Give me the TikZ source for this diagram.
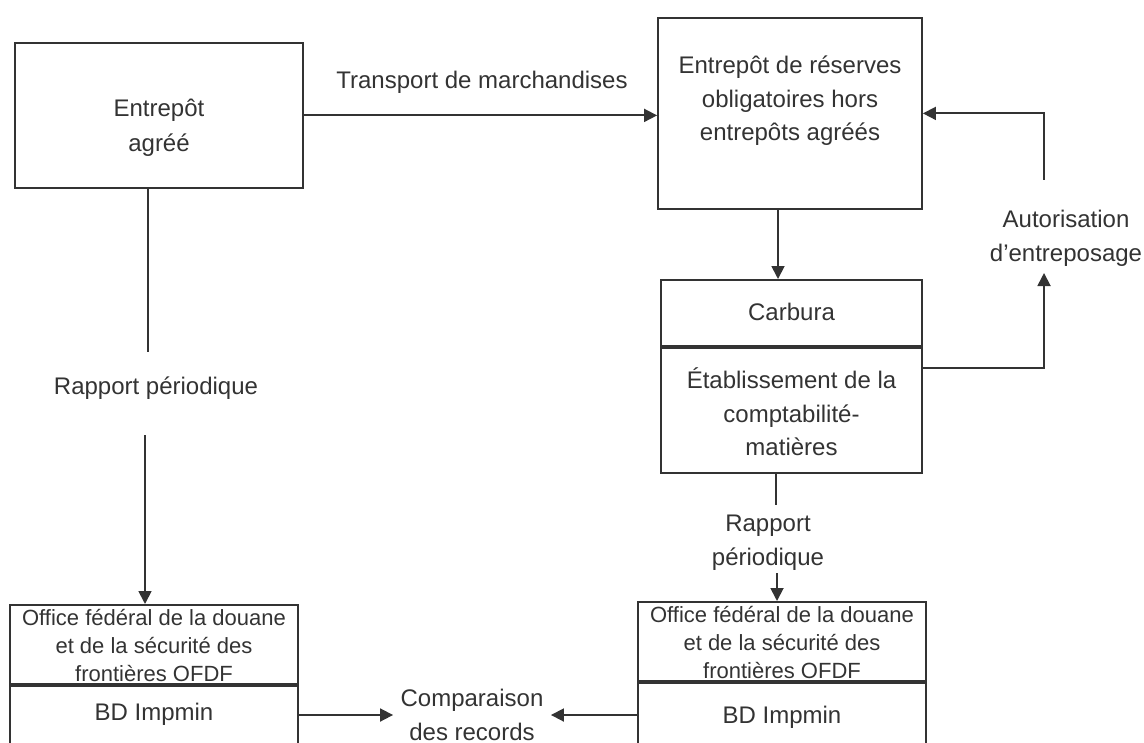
\documentclass[tikz,border=0pt]{standalone}
\usepackage{fontspec}
\setmainfont{Liberation Sans}
\usetikzlibrary{arrows.meta}

\newcommand\ofdffont{\fontsize{11}{14}\selectfont}

\begin{document}
\begin{tikzpicture}[x=0.5pt,y=-0.5pt,line width=0.9pt,color=black!80,
    box/.style={rectangle,draw,align=center,inner ysep=0pt,anchor=north,
      font=\fontsize{12}{17}\selectfont},
    lbl/.style={align=center,font=\fontsize{12}{17}\selectfont},
    arr/.style={-{Triangle[length=6.5pt,width=6.5pt]}}]
  \useasboundingbox (0,0) rectangle (1144,743);
  \clip (0,0) rectangle (1144,743);

  \node[box,minimum width=144pt,text height=54.5pt,text depth=18pt,font=\fontsize{12}{17.5}\selectfont] (depot) at (159,42) {Entrepôt\\agréé};
  \node[box,minimum width=132pt,text height=61.5pt,text depth=34pt,font=\fontsize{12}{16.75}\selectfont] (reserve) at (790,17)
    {Entrepôt de réserves\\obligatoires hors\\entrepôts agréés};
  \node[box,minimum width=130.5pt,text height=20.5pt,text depth=12.5pt] (carbura) at (791.5,279) {Carbura};
  \node[box,minimum width=130.5pt,text height=54pt,text depth=8.5pt,font=\fontsize{12}{16.75}\selectfont] (compta) at (carbura.south)
    {Établissement de la\\comptabilité-\\matières};

  \node[box,minimum width=144pt,text height=38.5pt,text depth=1pt,font=\ofdffont] (ofdfl) at (154,604)
    {Office fédéral de la douane\\et de la sécurité des\\frontières OFDF};
  \node[box,minimum width=144pt,text height=17.5pt,text depth=60pt] (bdl) at (ofdfl.south) {BD Impmin};
  \node[box,minimum width=144pt,text height=38.5pt,text depth=1pt,font=\ofdffont] (ofdfr) at (782,601)
    {Office fédéral de la douane\\et de la sécurité des\\frontières OFDF};
  \node[box,minimum width=144pt,text height=20.5pt,text depth=60pt] (bdr) at (ofdfr.south) {BD Impmin};

  \node[lbl] (transport) at (482,82) {Transport de marchandises};
  \node[lbl] (rapl) at (156,388) {Rapport périodique};
  \node[lbl] (autor) at (1066,238) {Autorisation\\d'entreposage};
  \node[lbl] (rapr) at (768,543) {Rapport\\périodique};
  \node[lbl] (cmp) at (472,715) {Comparaison\\des records};

  \coordinate (rl1) at (148,352);
  \coordinate (rl2) at (145,435);
  \coordinate (rr1) at (776,505);
  \coordinate (rr2) at (777,573);
  \coordinate (au1) at (1044,368);
  \coordinate (au2) at (1044,273);
  \coordinate (au3) at (1044,180);

  \draw[arr] (depot.east) -- (depot.east -| reserve.west);
  \draw[arr] ([xshift=-6pt]reserve.south) -- ([xshift=-6pt]reserve.south |- carbura.north);
  \draw (rl1 |- depot.south) -- (rl1);
  \draw[arr] (rl2) -- (rl2 |- ofdfl.north);
  \draw (rr1 |- compta.south) -- (rr1);
  \draw[arr] (rr2) -- (rr2 |- ofdfr.north);
  \draw[arr] (au1 -| compta.east) -- (au1) -- (au2);
  \draw[arr] (au3) -- (au3 |- reserve.east) -- (reserve.east);
  \draw[arr] (cmp.west -| bdl.east) -- (cmp.west);
  \draw[arr] (cmp.east -| bdr.west) -- (cmp.east);
\end{tikzpicture}
\end{document}
